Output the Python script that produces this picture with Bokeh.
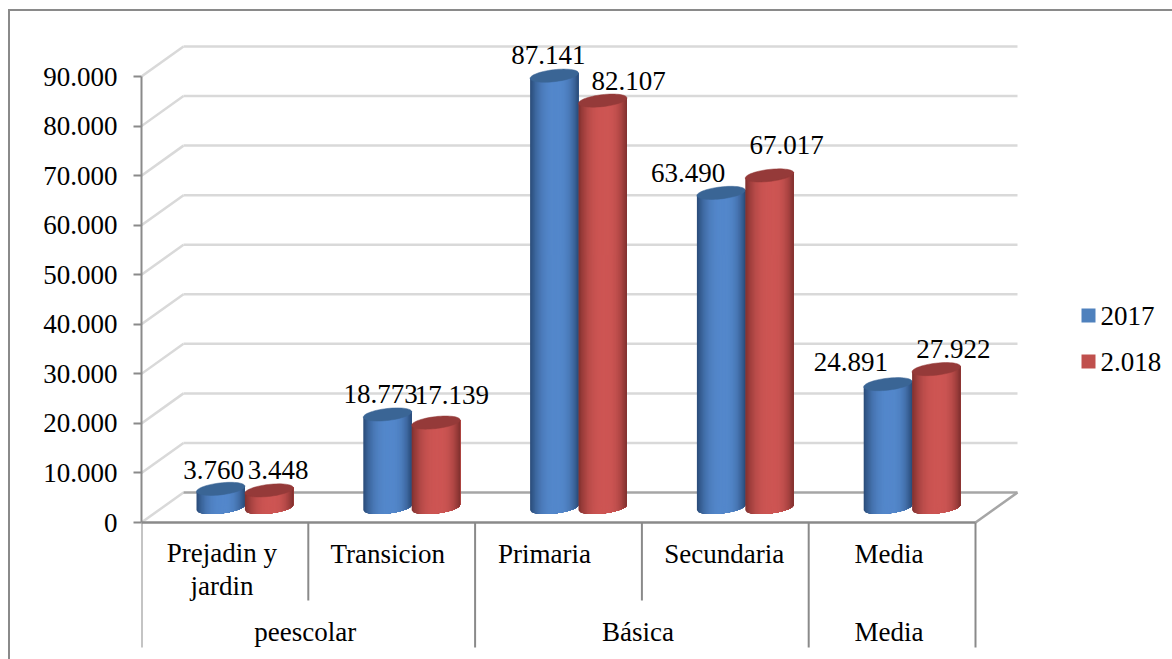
from bokeh.plotting import figure
from bokeh.models import ColumnDataSource, LinearAxis, FixedTicker, Range1d
from bokeh.core.properties import value
from bokeh.embed import file_html
from bokeh.resources import INLINE
import numpy as np

# ---------- data ----------
categories = ["Prejadin y\njardin", "Transicion", "Primaria", "Secundaria", "Media"]
groups = ["peescolar", "Básica", "Media"]
group_spans = [2, 2, 1]
series_names = ["2017", "2.018"]
values_2017 = [3760, 18773, 87141, 63490, 24891]
values_2018 = [3448, 17139, 82107, 67017, 27922]
tick_values = [0, 10000, 20000, 30000, 40000, 50000, 60000, 70000, 80000, 90000]

# ---------- layout (page pixels) ----------
W, H = 1172, 659
AX_L = 141.0
AX_W = 166.8
Y0 = 522.0
PX_PER = 446.0 / 90000
DX, DY = 42.0, 30.0
FONT = value("Liberation Serif")
FS = "27px"
AXC, GRIDC, FLOORC = "#8a8a8a", "#d9d9d9", "#a6a6a6"

p = figure(width=W, height=H, output_backend="svg", toolbar_location=None,
           x_axis_type=None, y_axis_type=None, min_border=0,
           min_border_left=int(AX_L), min_border_top=0, min_border_right=0, min_border_bottom=0,
           outline_line_color=None, background_fill_color=None, border_fill_color=None)
p.grid.visible = False
p.x_range = Range1d(AX_L, W)             # x axis units: page pixels of the frame
p.y_range = Range1d((Y0 - H) / PX_PER, Y0 / PX_PER)

# outer border of the picture: only its top and left edges fall on the page
p.styles = {
    "background-image": f"linear-gradient({AXC},{AXC}),linear-gradient({AXC},{AXC})",
    "background-size": "2px 650px, 1164px 2px",
    "background-position": "8px 9px, 8px 9px",
    "background-repeat": "no-repeat",
}


def vy(px):
    """vertical pixel distance expressed in value units"""
    return px / PX_PER


# y axis
ax = LinearAxis(ticker=FixedTicker(ticks=tick_values), bounds=(0, 90000),
                major_label_overrides={t: f"{t:,}".replace(",", ".") for t in tick_values},
                major_label_text_font="Liberation Serif", major_label_text_font_size=FS,
                major_label_text_color="black", axis_line_color=AXC, axis_line_width=2,
                major_tick_line_color=AXC, major_tick_line_width=2, major_tick_out=8, major_tick_in=0,
                minor_tick_line_color=None, major_label_standoff=16)
p.add_layout(ax, "left")

# walls
x_back_l, x_back_r = AX_L + DX, AX_L + 5 * AX_W + DX
grid_vals = tick_values[1:]
p.segment(x0=[x_back_l] * 9, x1=[x_back_r] * 9, y0=[v + vy(DY) for v in grid_vals],
          y1=[v + vy(DY) for v in grid_vals], line_color=GRIDC, line_width=2.5)
p.segment(x0=[AX_L] * 9, x1=[x_back_l] * 9, y0=grid_vals, y1=[v + vy(DY) for v in grid_vals],
          line_color=GRIDC, line_width=2.5)
# floor
p.segment(x0=[AX_L, x_back_l], x1=[x_back_l, x_back_r], y0=[0, vy(DY)], y1=[vy(DY), vy(DY)],
          line_color=[GRIDC, FLOORC], line_width=2.5)
p.segment(x0=[AX_L + 5 * AX_W], x1=[x_back_r], y0=[0], y1=[vy(DY)], line_color=FLOORC, line_width=2.5)
p.segment(x0=[AX_L], x1=[AX_L + 5 * AX_W], y0=[0], y1=[0], line_color=AXC, line_width=2.5)

# multilevel axis lines
n = len(categories)
tops = [0] * (n + 1)
floor_v = (Y0 - 647) / PX_PER
mid_v = (Y0 - 600) / PX_PER
edge_group = {0}
c = 0
for s in group_spans:
    c += s
    edge_group.add(c)
xs = [AX_L + i * AX_W for i in range(n + 1)]
p.segment(x0=xs, x1=xs, y0=tops, y1=[floor_v if i in edge_group else mid_v for i in range(n + 1)],
          line_color=AXC, line_width=2)

# category labels
cat_shift = [-3, -4, -14, -1, -3]
cat_x = [AX_L + (i + .5) * AX_W + cat_shift[i] for i in range(n)]
cat_y_px = [569, 553, 553, 553, 553]
p.text(x=cat_x, y=[(Y0 - y) / PX_PER for y in cat_y_px], text=categories, text_font=FONT,
       text_font_size=FS, text_align="center", text_baseline="middle", text_line_height=1.13,
       text_color="black")
grp_shift = [-3, -4, -3]
gx, start = [], 0
for s, d in zip(group_spans, grp_shift):
    gx.append(AX_L + (start + s / 2) * AX_W + d)
    start += s
p.text(x=gx, y=[(Y0 - 631) / PX_PER] * 3, text=groups, text_font=FONT, text_font_size=FS,
       text_align="center", text_baseline="middle", text_color="black")

# cylinders
A = 24.2            # half width
B = 6.0             # half height of the end ellipses
TILT = -0.11        # px of y per px of x (screen y grows downward)
BASE_UP = 15.0      # base centre above the front of the floor
STRIPS = 40
blue = dict(c=(84, 136, 204), e=(44, 78, 124), cap="#3a6595")
red = dict(c=(206, 86, 84), e=(132, 50, 48), cap="#953a39")


def shade(pal, u):
    peak = 0.55
    d = (u - peak) / (peak if u < peak else 1 - peak)
    m = 1 - abs(d) ** 2.6
    col = [int(pal["e"][k] + (pal["c"][k] - pal["e"][k]) * m) for k in range(3)]
    return "#%02x%02x%02x" % tuple(col)


def cylinder(cx, v, pal):
    base = vy(BASE_UP)
    edges = np.linspace(-A, A, STRIPS + 1)
    xs_, ys_, cols = [], [], []
    for i in range(STRIPS):
        # every strip runs to the right edge; the next one paints over it, so no seams
        sub = np.linspace(edges[i], A, 30)
        arc = B * np.sqrt(np.clip(1 - (sub / A) ** 2, 0, 1))
        lower = base + vy(-arc - TILT * sub)
        upper = (base + v + vy(-TILT * sub))
        xs_.append(list(cx + sub) + list(cx + sub[::-1]))
        ys_.append(list(lower) + list(upper[::-1]))
        cols.append(shade(pal, i / (STRIPS - 1)))
    p.patches(xs_, ys_, fill_color=cols, line_color=None)
    t = np.linspace(0, 2 * np.pi, 60)
    ex = A * np.cos(t)
    ey = B * np.sin(t)
    p.patch(cx + ex, base + v + vy(-ey - TILT * ex), fill_color=pal["cap"], line_color=pal["cap"], line_width=0.5)


CY_SHIFT = 20.0
cx_blue, cx_red = [], []
for i in range(n):
    center = AX_L + (i + .5) * AX_W + CY_SHIFT
    cx_blue.append(center - A)
    cx_red.append(center + A)
for i in range(n):
    cylinder(cx_blue[i], values_2017[i], blue)
    cylinder(cx_red[i], values_2018[i], red)

# data labels
lab_dx = [-7, -7, -6, -33, -37,  9, 16, 26, 17, 17]
lab_dy = [19, 20, 21, 20, 22,   20, 28, 20, 30, 20]
all_x = cx_blue + cx_red
all_v = values_2017 + values_2018
src = ColumnDataSource(dict(
    x=all_x, y=[vy(BASE_UP) + v for v in all_v],
    t=[f"{v:,}".replace(",", ".") for v in all_v],
    xo=lab_dx, yo=[-d for d in lab_dy]))
p.text(x="x", y="y", text="t", x_offset="xo", y_offset="yo", source=src, text_font=FONT, text_font_size=FS,
       text_align="center", text_baseline="middle", text_color="black")

# legend
leg_y_px = [315, 361]
leg_cols = ["#4f81bd", "#c0504d"]
p.rect(x=[1088, 1088], y=[(Y0 - y) / PX_PER for y in leg_y_px], width=14, height=vy(14),
       fill_color=leg_cols, line_color=None)
p.text(x=[1100, 1100], y=[(Y0 - y) / PX_PER for y in leg_y_px], text=series_names, text_font=FONT,
       text_font_size=FS, text_align="left", text_baseline="middle", text_color="black")

open("out.html", "w").write(file_html(p, INLINE))
